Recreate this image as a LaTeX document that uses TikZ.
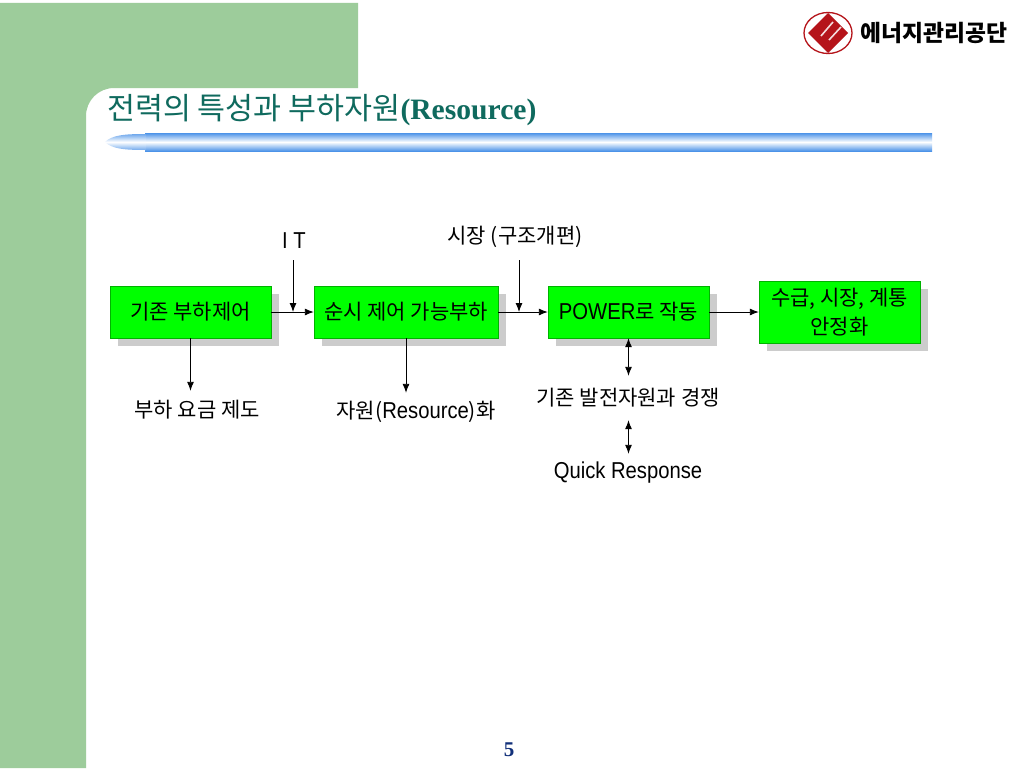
\documentclass[tikz,border=0pt]{standalone}
\usepackage{fontspec}
\setmainfont{Liberation Sans}
\newfontfamily\cjk{Noto Sans CJK KR}
\newfontfamily\titlefont{Liberation Serif}
\newfontfamily\narrowfont[FakeStretch=0.88]{Liberation Sans}
\usetikzlibrary{arrows.meta,shadows}
\definecolor{sidegreen}{HTML}{9DCC9B}
\definecolor{boxgreen}{HTML}{00FF00}
\definecolor{titleteal}{HTML}{0F6A5E}
\definecolor{barblue}{HTML}{4C93E8}
\definecolor{pagenavy}{HTML}{12307A}
\definecolor{logored}{HTML}{B5141A}
\tikzset{
    flowbox/.style={draw=green!70!black, line width=.4pt, fill=boxgreen, inner sep=0pt, align=center,
        font=\fontsize{21}{29}\selectfont\cjk, minimum height=52pt,
        copy shadow={shadow xshift=8pt, shadow yshift=-8pt, fill=black!20, draw=none}},
    plainlabel/.style={inner sep=0pt, minimum height=38pt, font=\fontsize{21}{24}\selectfont\cjk},
    arrow/.style={-{Latex[length=9pt,width=7pt]}, line width=.9pt},
    twoway/.style={{Latex[length=9pt,width=7pt]}-{Latex[length=9pt,width=7pt]}, line width=.9pt},
}
\newcommand{\latinpart}[1]{{\fontsize{23}{24}\selectfont\narrowfont #1}}
\begin{document}
\begin{tikzpicture}[x=1pt, y=-1pt]
    \useasboundingbox (0,0) rectangle (1024,768);
    % background
    \fill[white] (0,0) rectangle (1024,768);
    \fill[sidegreen] (0,3) -- (358,3) -- (358,88) -- (114,88) .. controls (98.5,88) and (86,100.5) .. (86,116) -- (86,768) -- (0,768) -- cycle;
    % title and bar
    \node[anchor=base west, inner sep=0pt, text=titleteal] (title) at (107,119)
        {\fontsize{30.4}{32}\selectfont\cjk 전력의 특성과 부하자원\titlefont\bfseries\fontsize{29.6}{32}\selectfont(Resource)};
    \shade[top color=barblue, bottom color=barblue, middle color=white] (145,133) rectangle (932,151);
    \shade[top color=barblue!80, bottom color=barblue!80, middle color=white] (105,142) .. controls (112,135) and (125,134) .. (146,134) -- (146,150) .. controls (125,150) and (112,149) .. (105,142) -- cycle;
    % logo
    \draw[logored, line width=1.3pt, fill=white] (828,33) ellipse[x radius=24, y radius=20.5];
    \fill[logored] (828,13) -- (848,33) -- (828,53) -- (808,33) -- cycle;
    \draw[white!85!logored, line width=1.6pt] (821,36) -- (833,22) (829,40) -- (841,27);
    \node[anchor=west, inner sep=0pt] (logotext) at (860,33) {\fontsize{22.8}{24}\selectfont\cjk\bfseries 에너지관리공단};
    % boxes
    \node[flowbox, minimum width=161pt] (oldload) at (190.5,312) {기존 부하제어};
    \node[flowbox, minimum width=184pt] (directload) at (406,312) {순시 제어 가능부하};
    \node[flowbox, minimum width=161pt] (power) at (628.5,312) {\latinpart{POWER}로 작동};
    \node[flowbox, minimum width=161pt, minimum height=62pt] (stable) at (839.5,312) {수급, 시장, 계통\\안정화};
    % labels
    \node[plainlabel] (it) at (294,241) {\latinpart{I T}};
    \node[plainlabel, minimum height=46pt] (market) at (515,237) {시장 (구조개편)};
    \node[plainlabel] (fee) at (197,410) {부하 요금 제도};
    \node[plainlabel] (resource) at (416,412) {자원(\latinpart{Resource})화};
    \node[plainlabel, minimum height=44pt] (compete) at (628,398) {기존 발전자원과 경쟁};
    \node[plainlabel] (quick) at (628,473) {\latinpart{Quick Response}};
    % connectors
    \coordinate (itjoin) at (293,312);
    \coordinate (marketjoin) at (519,312);
    \draw[arrow] (oldload.east) -- (directload.west);
    \draw[arrow] (directload.east) -- (power.west);
    \draw[arrow] (power.east) -- (stable.west);
    \draw[arrow] (itjoin |- it.south) -- (itjoin);
    \draw[arrow] (marketjoin |- market.south) -- (marketjoin);
    \draw[arrow] (oldload.south) -- (oldload.south |- fee.north);
    \draw[arrow] (directload.south) -- (directload.south |- resource.north);
    \draw[twoway] (power.south) -- (compete.north -| power.south);
    \draw[twoway] (compete.south -| power.south) -- (quick.north -| power.south);
    % page number
    \node[inner sep=0pt, text=pagenavy, font=\fontsize{21}{24}\selectfont\titlefont\bfseries] (pagenum) at (509,750) {5};
\end{tikzpicture}
\end{document}
